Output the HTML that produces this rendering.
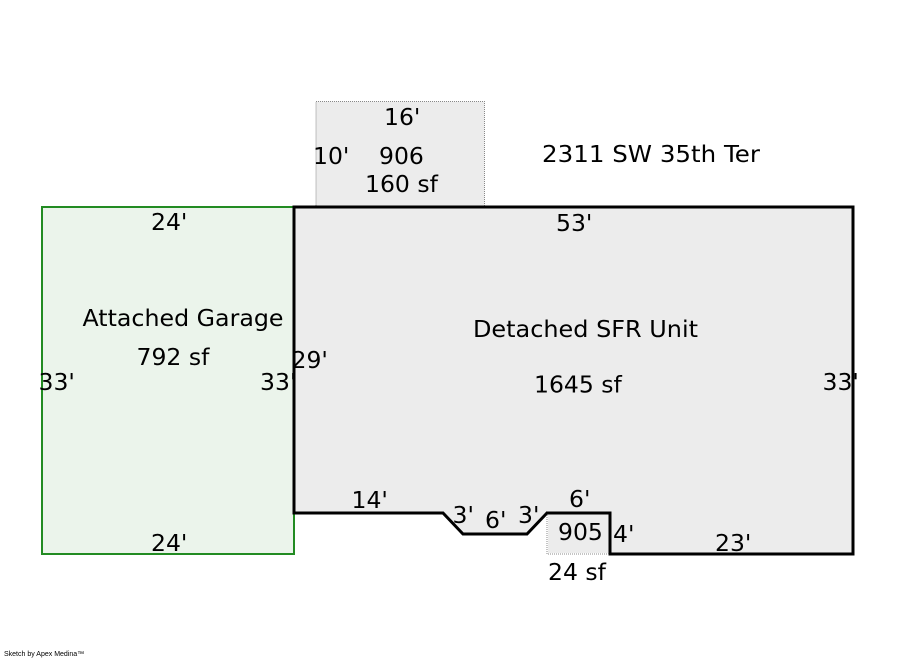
<!DOCTYPE html>
<html><head><meta charset="utf-8"><style>
html,body{margin:0;padding:0;background:#fff;}
svg{display:block;}
text{font-family:"DejaVu Sans","Liberation Sans",sans-serif;font-size:23.5px;fill:#000;}
</style></head><body>
<svg width="900" height="660" viewBox="0 0 900 660" xmlns="http://www.w3.org/2000/svg">
<rect x="0" y="0" width="900" height="660" fill="#fff"/>
<!-- top dotted box 906 -->
<rect x="316" y="101.5" width="168.5" height="105.5" fill="#ececec" stroke="#888" stroke-width="1" stroke-dasharray="1,1"/>
<!-- garage -->
<rect x="42" y="207" width="252" height="347" fill="#ebf4eb" stroke="#228b22" stroke-width="2"/>
<!-- main -->
<polygon points="294,207 853,207 853,554 610,554 610,513 547,513 527,534 463,534 443,513 294,513" fill="#ececec" stroke="#000" stroke-width="3" stroke-linejoin="miter"/>
<!-- small 905 box -->
<polyline points="547,513 547,554 610,554" fill="none" stroke="#888" stroke-width="1" stroke-dasharray="1,1"/>
<polygon points="548,514.5 608.5,514.5 608.5,553 548,553" fill="#ececec"/>
<line x1="610" y1="513" x2="610" y2="554" stroke="#000" stroke-width="3"/>
<line x1="546" y1="513" x2="611" y2="513" stroke="#000" stroke-width="3"/>
<line x1="609" y1="554" x2="854" y2="554" stroke="#000" stroke-width="3"/>
<line x1="294" y1="207" x2="294" y2="513" stroke="#000" stroke-width="3"/>

<text x="384" y="125">16'</text>
<text x="313" y="164">10'</text>
<text x="379" y="164">906</text>
<text x="365" y="192">160 sf</text>
<text x="542" y="162" textLength="218" lengthAdjust="spacingAndGlyphs">2311 SW 35th Ter</text>
<text x="556" y="231">53'</text>

<text x="151" y="230">24'</text>
<text x="82.5" y="326" textLength="201" lengthAdjust="spacingAndGlyphs">Attached Garage</text>
<text x="136.5" y="365">792 sf</text>
<text x="291.5" y="368">29'</text>
<text x="38.5" y="390">33'</text>
<text x="260" y="390">33'</text>
<text x="151" y="551">24'</text>

<text x="473" y="337" textLength="225" lengthAdjust="spacingAndGlyphs">Detached SFR Unit</text>
<text x="534" y="392.5">1645 sf</text>
<text x="822.5" y="390">33'</text>

<text x="351.5" y="508">14'</text>
<text x="452.5" y="523">3'</text>
<text x="485" y="528">6'</text>
<text x="518" y="523">3'</text>
<text x="569" y="507">6'</text>
<text x="558" y="540">905</text>
<text x="613" y="542">4'</text>
<text x="548" y="580">24 sf</text>
<text x="715" y="551">23'</text>

<text x="4" y="656" style="font-size:7px;font-family:'Liberation Sans',sans-serif">Sketch by Apex Medina™</text>
</svg>
</body></html>
